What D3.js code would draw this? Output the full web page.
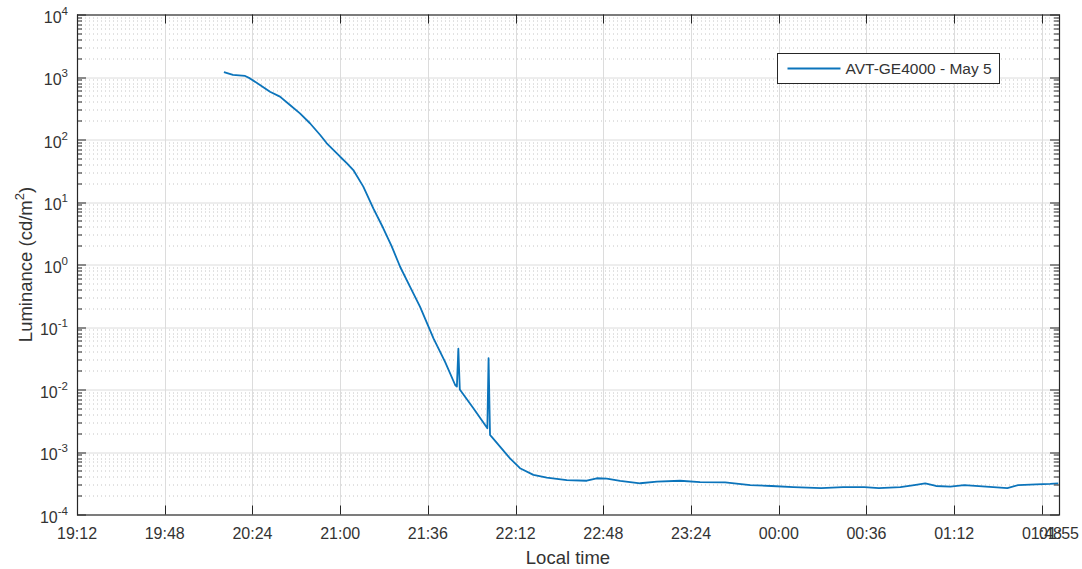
<!DOCTYPE html>
<html lang="en">
<head>
    <meta charset="UTF-8">
    <title>Luminance vs local time</title>
    <script src="https://d3js.org/d3.v7.min.js"></script>
    <style>
        body { margin: 0; background: #fff; }
        svg text { font-family: "Liberation Sans", Arial, sans-serif; fill: #333; }
        .grid-major { stroke: #dcdcdc; stroke-width: 1px; }
        .grid-minor { stroke: #c4c4c4; stroke-width: 1px; stroke-dasharray: 1,3; }
        .line { fill: none; stroke: #0b74bb; stroke-width: 1.8px; stroke-linejoin: round; }
        .tick-mark { stroke: #262626; stroke-width: 1px; }
    </style>
</head>
<body>
<div id="chart"></div>
<script>
    const times = [
        "20:12:18", "20:16:00", "20:21:00", "20:23:00", "20:27:06", "20:31:12", "20:35:18", "20:39:24",
        "20:43:30", "20:47:36", "20:51:48", "20:54:30", "21:00:00", "21:02:42", "21:05:24", "21:09:30",
        "21:13:36", "21:17:42", "21:21:12", "21:24:36", "21:28:42", "21:32:48", "21:38:18", "21:43:06",
        "21:47:12", "21:47:54", "21:48:30", "21:49:06", "21:54:36", "22:00:24", "22:00:54", "22:01:30",
        "22:02:12", "22:05:36", "22:09:42", "22:13:48", "22:19:18", "22:24:48", "22:33:00", "22:41:12",
        "22:45:18", "22:49:24", "22:54:54", "23:03:06", "23:10:00", "23:19:30", "23:27:42", "23:38:00",
        "23:48:18", "23:57:00", "00:06:00", "00:17:24", "00:26:24", "00:35:06", "00:41:06", "00:49:54",
        "00:55:36", "01:00:06", "01:04:30", "01:10:24", "01:16:06", "01:22:06", "01:28:00", "01:33:48",
        "01:38:18", "01:45:36", "01:51:24", "01:54:42"
    ];
    const luminance = [
        1200, 1080, 1040, 950, 745, 580, 485, 356,
        262, 182, 118, 87, 53, 42, 32.5, 17.6,
        7.9, 3.8, 1.93, 0.92, 0.44, 0.21, 0.066, 0.0275,
        0.0118, 0.0111, 0.045, 0.0100, 0.00506, 0.0024, 0.0316, 0.00187,
        0.00174, 0.00122, 7.9e-4, 5.5e-4, 4.3e-4, 3.9e-4, 3.56e-4, 3.47e-4,
        3.8e-4, 3.74e-4, 3.44e-4, 3.16e-4, 3.35e-4, 3.47e-4, 3.3e-4, 3.27e-4,
        2.96e-4, 2.86e-4, 2.75e-4, 2.65e-4, 2.75e-4, 2.75e-4, 2.65e-4, 2.75e-4,
        2.96e-4, 3.15e-4, 2.86e-4, 2.79e-4, 2.96e-4, 2.84e-4, 2.75e-4, 2.65e-4,
        2.96e-4, 3.03e-4, 3.08e-4, 3.15e-4
    ];
    const xTickLabels = ["19:12", "19:48", "20:24", "21:00", "21:36", "22:12", "22:48",
                         "23:24", "00:00", "00:36", "01:12", "01:48", "01:55"];
    const yDecades = [-4, -3, -2, -1, 0, 1, 2, 3, 4];
    const seriesName = "AVT-GE4000 - May 5";

    // evening of May 5, after midnight rolls over to May 6
    const parseT = s => {
        const [h, m, sec = 0] = s.split(":").map(Number);
        return new Date(2019, 4, h < 12 ? 6 : 5, h, m, sec);
    };
    const data = times.map((t, i) => ({ t: parseT(t), v: luminance[i] }));

    const W = 1082, H = 569;
    const margin = {top: 14.5, right: 23, bottom: 54.5, left: 77},
          width = W - margin.left - margin.right,
          height = H - margin.top - margin.bottom;

    const svg = d3.select("#chart").append("svg")
        .attr("width", W).attr("height", H);
    const g = svg.append("g").attr("transform", `translate(${margin.left},${margin.top})`);

    const x = d3.scaleTime()
        .domain([parseT("19:12"), parseT("01:55")])
        .range([0, width]);
    const y = d3.scaleLog()
        .domain([1e-4, 1e4])
        .range([height, 0]);

    const xTicks = xTickLabels.map(parseT);
    const majorY = yDecades.map(e => Math.pow(10, e));
    const minorY = y.ticks().filter(v => !majorY.some(m => Math.abs(Math.log10(v) - Math.log10(m)) < 1e-9));

    // minor grid (dotted), then major grid
    g.selectAll(".grid-minor").data(minorY).enter().append("line")
        .attr("class", "grid-minor")
        .attr("x1", 0).attr("x2", width)
        .attr("y1", d => Math.round(y(d)) + 0.5).attr("y2", d => Math.round(y(d)) + 0.5);
    g.selectAll(".grid-major-y").data(majorY.slice(1, -1)).enter().append("line")
        .attr("class", "grid-major")
        .attr("x1", 0).attr("x2", width)
        .attr("y1", d => Math.round(y(d)) + 0.5).attr("y2", d => Math.round(y(d)) + 0.5);
    g.selectAll(".grid-major-x").data(xTicks.slice(1, -1)).enter().append("line")
        .attr("class", "grid-major")
        .attr("y1", 0).attr("y2", height)
        .attr("x1", d => Math.round(x(d)) + 0.5).attr("x2", d => Math.round(x(d)) + 0.5);

    // the luminance curve
    const line = d3.line().x(d => x(d.t)).y(d => y(d.v));
    g.append("path").datum(data).attr("class", "line").attr("d", line);

    // tick marks pointing inwards on all four sides
    const majLen = 9, minLen = 5;
    xTicks.forEach(d => {
        const px = Math.round(x(d)) + 0.5;
        g.append("line").attr("class", "tick-mark").attr("x1", px).attr("x2", px).attr("y1", height).attr("y2", height - majLen);
        g.append("line").attr("class", "tick-mark").attr("x1", px).attr("x2", px).attr("y1", 0).attr("y2", majLen);
    });
    majorY.forEach(d => {
        const py = Math.round(y(d)) + 0.5;
        g.append("line").attr("class", "tick-mark").attr("x1", 0).attr("x2", majLen).attr("y1", py).attr("y2", py);
        g.append("line").attr("class", "tick-mark").attr("x1", width).attr("x2", width - majLen).attr("y1", py).attr("y2", py);
    });
    minorY.forEach(d => {
        const py = Math.round(y(d)) + 0.5;
        g.append("line").attr("class", "tick-mark").attr("x1", 0).attr("x2", minLen).attr("y1", py).attr("y2", py);
        g.append("line").attr("class", "tick-mark").attr("x1", width).attr("x2", width - minLen).attr("y1", py).attr("y2", py);
    });

    // axes box
    g.append("rect")
        .attr("x", 0.5).attr("y", 0.5).attr("width", width).attr("height", height)
        .attr("fill", "none").attr("stroke", "#262626").attr("stroke-width", 1.2);

    // x tick labels (01:48 and 01:55 overlap, as in the original)
    g.selectAll(".xlab").data(xTicks).enter().append("text")
        .attr("x", d => x(d)).attr("y", height + 24)
        .attr("text-anchor", "middle").style("font-size", "16px")
        .text((d, i) => xTickLabels[i]);

    // y tick labels: 10^n
    const yl = g.selectAll(".ylab").data(yDecades).enter().append("text")
        .attr("x", -9).attr("y", e => y(Math.pow(10, e)) + 8)
        .attr("text-anchor", "end").style("font-size", "16px");
    yl.append("tspan").text("10");
    yl.append("tspan").attr("dy", -8).style("font-size", "11.5px").text(e => e);

    // axis labels
    svg.append("text")
        .attr("x", margin.left + width / 2).attr("y", 564)
        .attr("text-anchor", "middle").style("font-size", "18.5px")
        .text("Local time");
    const ylab = svg.append("text")
        .attr("transform", `translate(32,${margin.top + height / 2}) rotate(-90)`)
        .attr("text-anchor", "middle").style("font-size", "18.5px");
    ylab.append("tspan").text("Luminance (cd/m");
    ylab.append("tspan").attr("dy", -8).style("font-size", "13px").text("2");
    ylab.append("tspan").attr("dy", 8).text(")");

    // legend
    const lg = svg.append("g").attr("transform", "translate(777.5,53.5)");
    lg.append("rect").attr("width", 222).attr("height", 30)
        .attr("fill", "#fff").attr("stroke", "#262626").attr("stroke-width", 1);
    lg.append("line").attr("x1", 10).attr("x2", 63).attr("y1", 15).attr("y2", 15)
        .attr("stroke", "#0b74bb").attr("stroke-width", 1.8);
    lg.append("text").attr("x", 68).attr("y", 20.5).style("font-size", "15.5px").text(seriesName);
</script>
</body>
</html>
